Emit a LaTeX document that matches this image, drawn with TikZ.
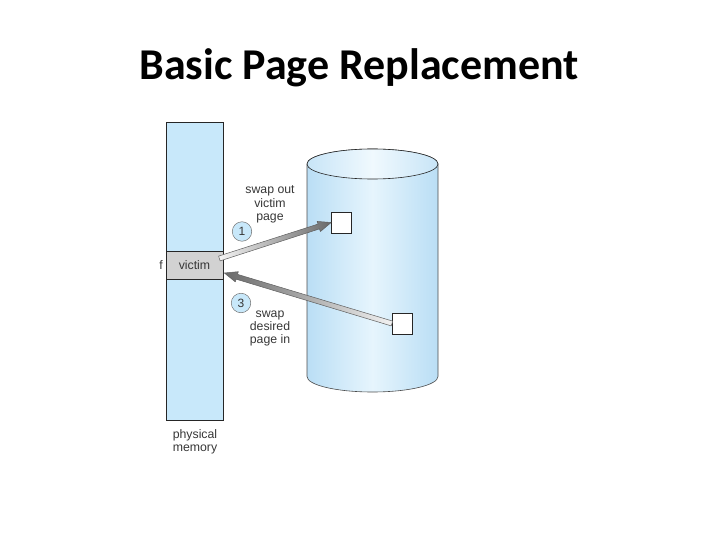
\documentclass[tikz,border=0pt]{standalone}
\usepackage{fontspec}
\setmainfont{Liberation Sans}
\newfontfamily\titlefont{Carlito}
\usetikzlibrary{calc,shapes.geometric}
\definecolor{memblue}{RGB}{200,232,250}
\definecolor{cylside}{RGB}{186,222,245}
\definecolor{cyllight}{RGB}{230,245,253}
\definecolor{victimgray}{RGB}{210,210,210}
\definecolor{arrowedge}{RGB}{95,95,95}
\definecolor{arrowdark}{RGB}{105,105,105}
\definecolor{labeltext}{RGB}{55,55,55}
\newcommand{\sharrow}[4]{%
  \coordinate (#4) at ($(#3)!13pt!(#2)$);
  \shade[#1, draw=arrowedge, line width=0.5pt, line join=round]
    ($(#2)!2.5pt!90:(#3)$) -- ($(#4)!2.5pt!-90:(#2)$) -- ($(#4)!5.3pt!-90:(#2)$) -- (#3)
    -- ($(#4)!5.3pt!90:(#2)$) -- ($(#4)!2.5pt!90:(#2)$) -- ($(#2)!2.5pt!-90:(#3)$) -- cycle;
}
\tikzset{
  membox/.style={draw=black!85, line width=0.7pt, fill=memblue, minimum width=57pt, inner sep=0pt},
  pagebox/.style={draw=black!85, line width=0.7pt, fill=white, minimum width=20pt, minimum height=21pt, inner sep=0pt},
  stepnum/.style={circle, draw=black!55, line width=0.5pt, fill=memblue, minimum size=19.5pt, inner sep=0pt, font=\fontsize{12}{14}\selectfont, text=labeltext},
  lbl/.style={align=center, font=\fontsize{12.3}{13.3}\selectfont, text=labeltext, inner sep=0pt},
}
\begin{document}
\begin{tikzpicture}[x=1pt,y=1pt]
\useasboundingbox (0,0) rectangle (720,-540);
% title
\node[font=\titlefont\bfseries\fontsize{44}{48}\selectfont] (title) at (359,-68) {Basic Page Replacement};
% physical memory
\node[membox, minimum height=298pt] (mem) at (194.5,-271) {};
\node[membox, fill=victimgray, minimum height=27.5pt, font=\fontsize{12.3}{14}\selectfont, text=labeltext] (victim) at (194.5,-265.5) {victim};
\node[lbl] (f) at (161,-265.5) {f};
\node[lbl] (physlbl) at (195,-441.5) {physical\\memory};
% disk cylinder
\shade[left color=cylside, right color=cylside, middle color=cyllight, draw=black!70, line width=0.6pt]
  (307,-164) -- (307,-376.5) arc[start angle=180, end angle=360, x radius=65.5pt, y radius=15.5pt]
  -- (438,-164) arc[start angle=0, end angle=180, x radius=65.5pt, y radius=15pt] -- cycle;
\shade[left color=cylside!80!white, right color=cylside!80!white, middle color=cyllight!60!white, draw=black!85, line width=0.6pt]
  (372.5,-164) ellipse[x radius=65.5pt, y radius=15pt];
\node[pagebox] (page1) at (341.5,-222.5) {};
\node[pagebox] (page2) at (402.3,-323.5) {};
% step markers and labels
\node[stepnum] (c1) at (242,-231.5) {1};
\node[stepnum] (c3) at (241,-303) {3};
\node[lbl] (lbl1) at (270,-204.5) {swap out\\victim\\page};
\node[lbl] (lbl3) at (270,-328.5) {swap\\desired\\page in};
% arrows
\coordinate (t1) at ($(victim.east)+(-4,7)$);
\coordinate (h1) at (page1.west);
\sharrow{left color=gray!8, right color=arrowdark}{t1}{h1}{b1}
\coordinate (t3) at (page2.west);
\coordinate (h3) at ($(victim.east)+(1,-7.5)$);
\sharrow{left color=arrowdark, right color=gray!10}{t3}{h3}{b3}
\end{tikzpicture}
\end{document}
